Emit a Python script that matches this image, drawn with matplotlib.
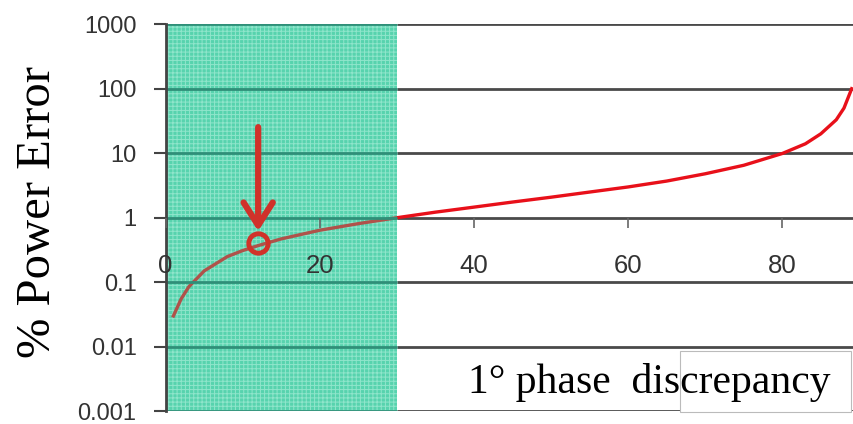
import numpy as np
import matplotlib
matplotlib.use("Agg")
from matplotlib import pyplot as plt
from matplotlib.patches import Rectangle

# phase angle (deg) vs % power error
angle = [1, 2, 3, 5, 8, 10, 12, 15, 20, 25, 30, 35, 40, 45, 50, 55, 60,
         65, 70, 75, 80, 83, 85, 87, 88, 89]
error = [0.03, 0.055, 0.085, 0.15, 0.25, 0.31, 0.37, 0.47, 0.64, 0.81, 1.0,
         1.22, 1.46, 1.75, 2.08, 2.5, 3.0, 3.7, 4.8, 6.5, 9.9, 14, 20, 33, 50, 100]
yticks = [0.001, 0.01, 0.1, 1, 10, 100, 1000]
ytick_labels = ["0.001", "0.01", "0.1", "1", "10", "100", "1000"]
xticks = [0, 20, 40, 60, 80]
marked_angle = 12
marked_error = 0.4
shade_end = 30
xmax = 89.3

plt.rcParams['hatch.linewidth'] = 0.7
fig = plt.figure(figsize=(8.54, 4.24), dpi=100)
ax = fig.add_axes([0.194, 0.03, 0.806, 0.913])

ax.set_yscale('log')
ax.set_ylim(0.001, 1000)
ax.set_xlim(0, xmax)

# shaded green band
ax.axvspan(0, shade_end, facecolor='#45cfa6', alpha=0.85, edgecolor='#c8f7e8',
           hatch='++++', lw=0, zorder=1)

# grid: grey outside the band, dark teal inside it
ax.hlines(yticks, shade_end, xmax, color='#4a4a4a', lw=2, zorder=2)
ax.hlines(yticks, 0, shade_end, color='#2f8f78', lw=2, zorder=4.5)

ax.plot(angle, error, color='#e8101a', lw=2.4, zorder=3)

# light tint over the curve inside the band
ax.axvspan(0, shade_end, facecolor='#45cfa6', alpha=0.35, lw=0, zorder=4)

# arrow and circle marking one point
ax.annotate('', xy=(marked_angle, 0.56), xytext=(marked_angle, 28),
            arrowprops=dict(arrowstyle='->,head_length=0.55,head_width=0.35',
                            color='#d0322a', lw=4.5, mutation_scale=30),
            zorder=5)
ax.plot([marked_angle], [marked_error], 'o', ms=14, mfc='none', mec='#d0322a',
        mew=3.5, zorder=5)

ax.set_yticks(yticks)
ax.set_yticklabels(ytick_labels, fontsize=17, color='#333333',
                   family='Liberation Sans')
ax.yaxis.set_minor_locator(matplotlib.ticker.NullLocator())
ax.tick_params(axis='y', length=9, width=1.5, color='#444444', pad=12)

ax.spines['bottom'].set_position(('data', 1))
ax.spines['bottom'].set_visible(False)
ax.spines['top'].set_visible(False)
ax.spines['right'].set_visible(False)
ax.spines['left'].set_color('#444444')
ax.spines['left'].set_linewidth(2)
ax.spines['left'].set_zorder(6)
ax.set_xticks(xticks)
ax.set_xticklabels([str(v) for v in xticks], fontsize=18.5, color='#333333',
                   family='Liberation Sans')
ax.tick_params(axis='x', direction='out', length=7, width=1.2,
               color='#666666', pad=19)
ax.xaxis.set_zorder(6)

fig.text(0.044, 0.50, '% Power Error', rotation=90, ha='center', va='center',
         fontsize=35, family='Liberation Serif')

box = Rectangle((0.796, 0.028), 0.2, 0.143, transform=fig.transFigure,
                facecolor='white', edgecolor='#bbbbbb', lw=0.8, zorder=6)
fig.patches.append(box)
fig.text(0.548, 0.099, '1° phase  discrepancy', ha='left', va='center',
         fontsize=30, family='Liberation Serif', zorder=7)

fig.savefig('out.png', dpi=100)
